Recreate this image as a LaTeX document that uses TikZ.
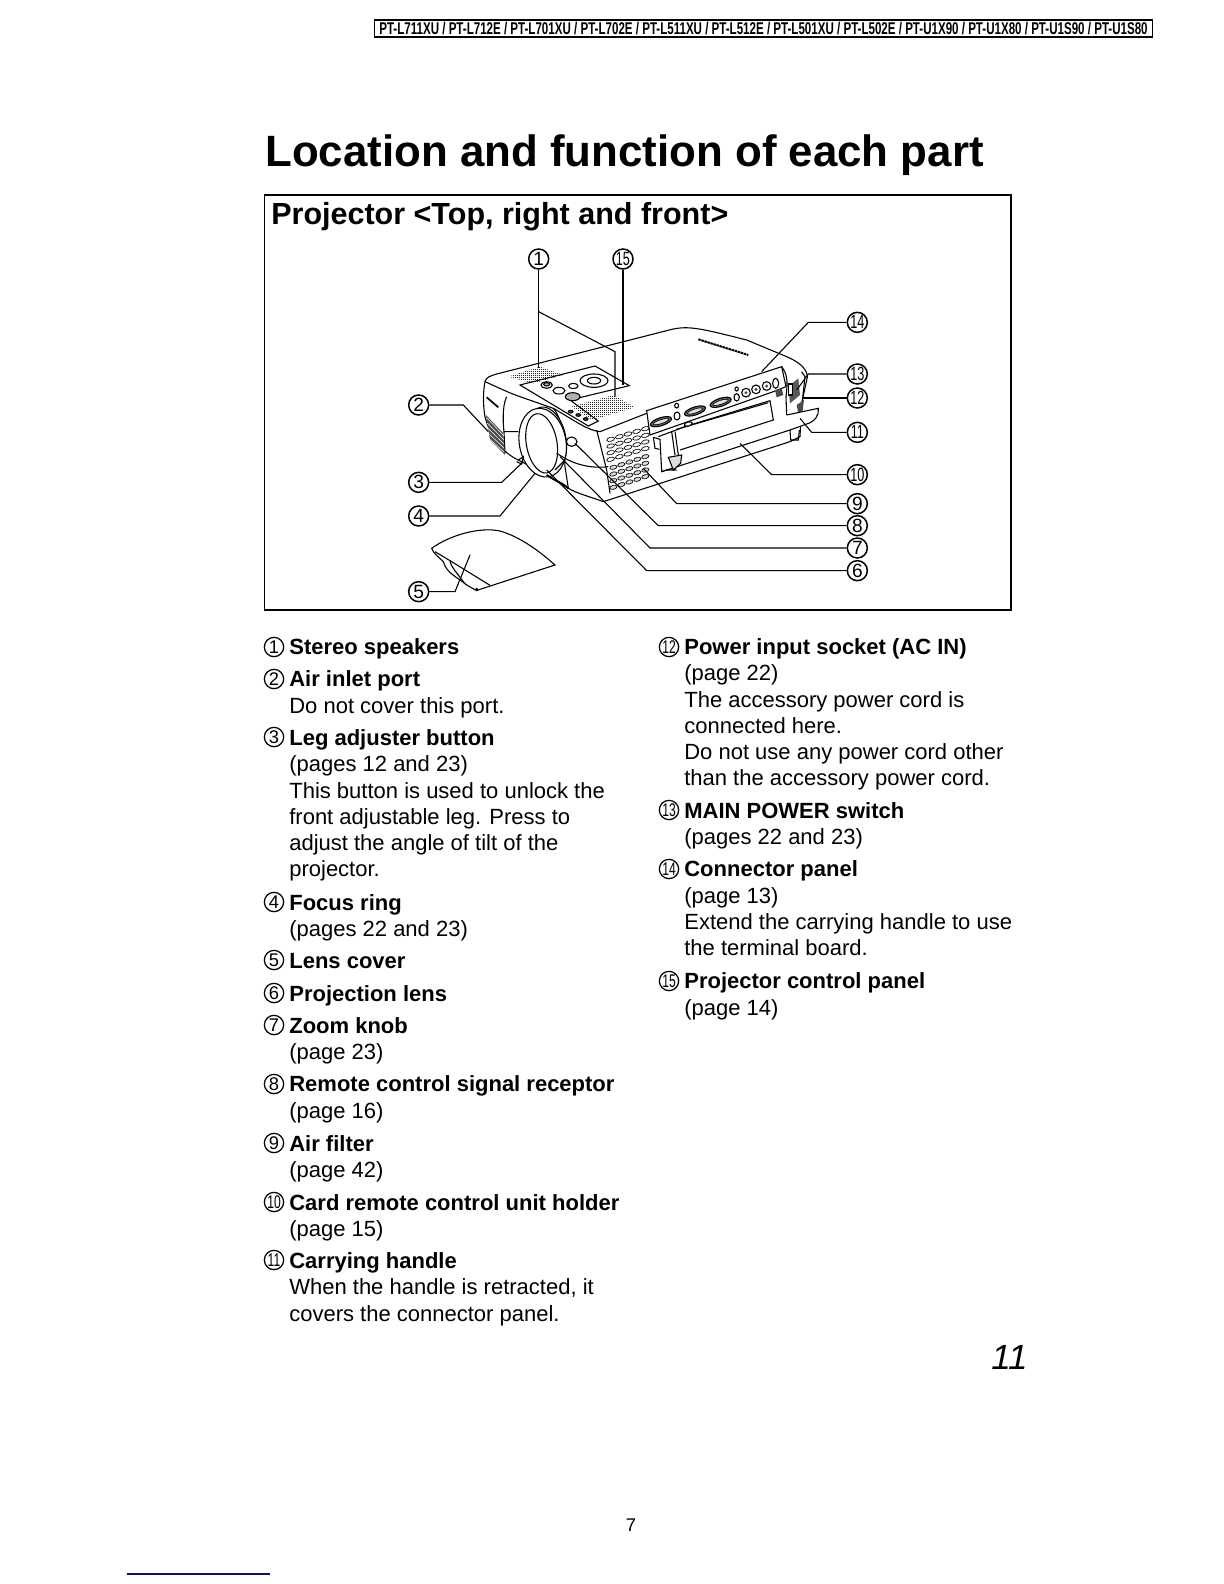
\documentclass[tikz,border=0pt]{standalone}
\usepackage{fontspec}
\usepackage{graphicx}
\setmainfont{Liberation Sans}
\newcommand{\fs}[1]{\fontsize{#1}{#1}\selectfont}
\newcommand{\nn}[1]{\scalebox{.66}[1]{#1}}
\tikzset{
  bodytxt/.style={anchor=base west,inner sep=0pt,font=\fs{13.2pt}},
  headtxt/.style={anchor=base west,inner sep=0pt,font=\fs{13.2pt}\bfseries},
  numc/.style={circle,draw,line width=.75pt,minimum size=11.6pt,inner sep=0pt,font=\fs{11pt},fill=white},
  numd/.style={circle,draw,line width=.9pt,minimum size=12pt,inner sep=0pt,font=\fs{11.5pt},fill=white},
  conn/.style={line width=.65pt},
  prj/.style={line width=.65pt},
  thin2/.style={line width=.4pt},
  stip/.style={line width=.5pt,dash pattern=on .55pt off .65pt,black!85},
}
\begin{document}
\begin{tikzpicture}[x=0.6pt,y=-0.6pt]
\useasboundingbox (0,0) rectangle (1224,1584);
\fill[white] (0,0) rectangle (1224,1584);
% header
\node[draw,line width=.9pt,inner sep=0pt,minimum width=467pt,minimum height=10pt] (hdr) at (763.5,28.5)
  {\resizebox{461pt}{7.4pt}{\bfseries PT-L711XU / PT-L712E / PT-L701XU / PT-L702E / PT-L511XU / PT-L512E / PT-L501XU / PT-L502E / PT-U1X90 / PT-U1X80 / PT-U1S90 / PT-U1S80}};
\node[anchor=base west,inner sep=0pt,font=\fs{26.3pt}\bfseries] (title) at (265,166) {Location and function of each part};
\draw[line width=.9pt] (264.5,195) rectangle (1011,610);
\draw[line width=1.2pt] (264.5,610) -- (1011,610);
\node[anchor=base west,inner sep=0pt,font=\fs{18.3pt}\bfseries] (sect) at (271,224) {Projector <Top, right and front>};

\begin{scope}[shift={(400,240)},x=0.2pt,y=-0.2pt]
% body outline
\draw[prj,fill=white] (255,425) .. controls (258,412) and (270,408) .. (290,402) -- (800,272)
  .. controls (860,255) and (890,262) .. (1040,300) -- (1160,350) .. controls (1195,365) and (1222,385) .. (1222,412)
  -- (1205,490) -- (1200,590) -- (1170,605) -- (610,785) .. controls (570,770) and (530,760) .. (505,745)
  -- (440,705) -- (355,660) .. controls (310,640) and (270,590) .. (255,530) .. controls (248,490) and (250,450) .. (255,425) -- cycle;
% top face lower edge
\draw[prj] (255,425) .. controls (300,445) and (330,460) .. (360,470) -- (460,505) .. controls (530,545) and (560,570) .. (600,575) -- (740,520);
\draw[prj] (320,470) .. controls (305,500) and (310,560) .. (312,575) -- (355,575);
\draw[prj] (312,575) -- (315,640);
\draw[prj] (460,505) .. controls (490,540) and (490,600) .. (495,680) -- (505,745);
\draw[prj] (495,655) .. controls (540,680) and (590,685) .. (625,680);
\draw[prj] (590,570) -- (620,690) -- (630,760);
% logo + side vent
\draw[line width=1pt] (260,472) -- (295,502);
\fill[black!70] (258,525) -- (310,580) -- (315,645) -- (270,600) -- cycle;
\foreach \k in {0,1,2,3,4}{\draw[white,line width=.3pt] (262,{535+\k*14}) -- (312,{588+\k*12});}
% top logo
\draw[line width=1.2pt,dash pattern=on 1.5pt off .4pt] (895,298) -- (1045,345);
% speakers
\begin{scope}
\clip (325,410) -- (420,380) -- (490,405) -- (400,430) -- cycle;
\foreach \yy in {376,382,...,436}{\draw[stip] (320,\yy) -- (495,\yy);}
\end{scope}
\begin{scope}
\clip (515,500) -- (640,465) -- (705,502) -- (575,540) -- cycle;
\foreach \yy in {462,468,...,546}{\draw[stip] (510,\yy) -- (710,\yy);}
\end{scope}
% control panel
\draw[prj] (360,435) -- (585,378) -- (688,437) -- (510,480) -- (595,543) -- (565,558) -- cycle;
\draw[prj,fill=white] (440,435) ellipse [x radius=17,y radius=10];
\draw[prj,fill=gray!60] (440,433) ellipse [x radius=9,y radius=5];
\draw[prj,fill=white] (477,452) ellipse [x radius=18,y radius=10];
\draw[prj,fill=gray!60] (518,470) ellipse [x radius=22,y radius=12];
\draw[prj,fill=white] (520,438) ellipse [x radius=14,y radius=8];
\draw[prj,fill=white] (582,422) ellipse [x radius=42,y radius=20];
\draw[prj,fill=white] (582,422) ellipse [x radius=20,y radius=10];
\draw[prj,fill=black!70] (512,515) ellipse [x radius=7,y radius=4];
\draw[prj,fill=black!70] (535,525) ellipse [x radius=7,y radius=4];
\draw[prj,fill=black!70] (557,537) ellipse [x radius=7,y radius=4];
% vents
\foreach \r in {0,1,2,3}{\foreach \c in {0,1,2,3,4}{
  \draw[thin2] ({632+\c*26},{598+\r*20-\c*8}) ellipse [x radius=12,y radius=6,rotate=15];
  \draw[thin2,fill=gray!30] ({640+\c*24},{682+\r*20-\c*8}) ellipse [x radius=11,y radius=6,rotate=15];
}}
% connector panel
\draw[prj,fill=white] (740,512) -- (1145,380) -- (1158,440) -- (1120,455) -- (750,585) -- cycle;
\foreach \px/\py in {783/545,885/513,962/487}{
  \draw[prj,fill=black!60] (\px,\py) ellipse [x radius=33,y radius=12,rotate=18];
  \draw[thin2,fill=gray!25] (\px,\py) ellipse [x radius=24,y radius=6,rotate=18];
}
\draw[prj] (831,528) ellipse [x radius=9,y radius=12];
\draw[prj] (830,497) ellipse [x radius=6,y radius=7];
\draw[prj] (1010,472) ellipse [x radius=8,y radius=11];
\draw[prj] (1010,447) ellipse [x radius=5,y radius=6];
\foreach \px/\py in {1038/458,1068/448,1100/438}{
  \draw[prj,fill=white] (\px,\py) circle [radius=13];
  \fill[black!70] (\px,\py) circle [radius=5];
}
\draw[prj] (1127,430) ellipse [x radius=9,y radius=15];
% holder door
\draw[prj] (775,590) -- (860,558) -- (1110,482) -- (1120,540) -- (840,630);
\draw[prj] (830,568) -- (1105,488);
\draw[prj,fill=white] (865,552) ellipse [x radius=12,y radius=6,rotate=15];
\draw[prj] (760,592) -- (780,598) -- (785,695) -- (1170,570);
\draw[prj] (760,592) -- (765,625) -- (778,628);
\draw[prj] (815,575) -- (825,645) (825,575) -- (835,645);
\draw[prj,fill=gray!25] (805,652) -- (845,645) -- (842,670) -- (820,690) -- cycle;
\draw[prj] (785,695) -- (800,690) -- (830,690);
% right side with socket
\draw[prj] (1145,380) .. controls (1160,400) and (1165,420) .. (1158,470) -- (1160,525);
\fill[black!65] (1165,440) -- (1195,415) -- (1200,465) -- (1170,490) -- cycle;
\draw[prj,fill=white] (1165,432) rectangle (1178,465);
\fill[black!70] (1125,450) -- (1145,445) -- (1150,465) -- (1130,472) -- cycle;
\draw[prj,fill=white] (1205,395) -- (1215,410) -- (1205,500);
\fill[black!70] (1190,495) -- (1212,480) -- (1208,512) -- (1195,520) -- cycle;
% handle
\draw[prj,fill=white] (1160,525) -- (1255,505) .. controls (1258,525) and (1245,545) .. (1220,552) -- (1170,570);
\draw[prj] (1170,570) -- (1172,600) -- (1195,600) -- (1198,570);
% lens
\draw[prj,fill=white,rotate around={10:(440,600)}] (440,600) ellipse [x radius=58,y radius=100];
\draw[prj,fill=white,rotate around={10:(428,608)}] (428,608) ellipse [x radius=70,y radius=104];
\draw[prj,fill=white,rotate around={10:(425,610)}] (425,610) ellipse [x radius=46,y radius=90];
\draw[prj] (470,640) -- (495,655) (465,690) -- (495,660);
\draw[prj] (355,660) -- (370,650) -- (365,672) -- (350,665);
% lens-side lamp
\draw[prj,fill=white] (515,605) ellipse [x radius=16,y radius=14];
% hood lower
\draw[line width=1.1pt] (440,705) .. controls (470,725) and (490,730) .. (505,745);
% lens cover
\draw[prj,fill=white] (95,925) .. controls (150,885) and (240,860) .. (300,873) .. controls (360,890) and (420,935) .. (465,975)
  -- (240,1048) -- (230,1052) -- (200,1035) .. controls (170,1010) and (140,1000) .. (130,965) .. controls (115,950) and (100,940) .. (95,925) -- cycle;
\draw[prj] (105,935) -- (150,962) -- (270,1036);
\draw[prj] (150,962) .. controls (155,985) and (165,990) .. (195,1032);
\fill (230,1048) circle [radius=5];

% labels
\node[numd] (n1) at (416,57) {1};
\node[numd] (n15) at (669,57) {\nn{15}};
\node[numd] (n14) at (1372,247) {\nn{14}};
\node[numd] (n13) at (1372,402) {\nn{13}};
\node[numd] (n12) at (1372,474) {\nn{12}};
\node[numd] (n11) at (1372,577) {\nn{11}};
\node[numd] (n10) at (1372,704) {\nn{10}};
\node[numd] (n9) at (1372,791) {9};
\node[numd] (n8) at (1372,857) {8};
\node[numd] (n7) at (1372,924) {7};
\node[numd] (n6) at (1372,992) {6};
\node[numd] (n2) at (56,495) {2};
\node[numd] (n3) at (56,727) {3};
\node[numd] (n4) at (56,828) {4};
\node[numd] (n5) at (56,1055) {5};
% targets
\coordinate (t1a) at (416,385);
\coordinate (j1) at (416,215);
\coordinate (t1b) at (645,470);
\coordinate (t15) at (669,435);
\coordinate (t2) at (265,575);
\coordinate (t3) at (370,665);
\coordinate (t4) at (405,700);
\coordinate (t5) at (210,945);
\coordinate (t6) at (440,690);
\coordinate (t7) at (480,650);
\coordinate (t8) at (525,610);
\coordinate (t9) at (730,685);
\coordinate (t10) at (1020,610);
\coordinate (t11) at (1200,535);
\coordinate (t12) at (1210,474);
\coordinate (t13) at (1190,450);
\coordinate (t14) at (1085,395);
\draw[conn] (n1) -- (t1a);
\draw[conn] (j1) -- (645,335) -- (t1b);
\draw[conn] (n15) -- (t15);
\draw[conn] (n2) -- (190,495) -- (t2);
\draw[conn] (n3) -- (305,727) -- (t3);
\draw[conn] (n4) -- (300,828) -- (t4);
\draw[conn] (n5) -- (165,1055) -- (t5);
\draw[conn] (n6) -- (740,992) -- (t6);
\draw[conn] (n7) -- (750,924) -- (t7);
\draw[conn] (n8) -- (775,857) -- (t8);
\draw[conn] (n9) -- (830,791) -- (t9);
\draw[conn] (n10) -- (1115,704) -- (t10);
\draw[conn] (n11) -- (1235,577) -- (t11);
\draw[conn] (n12) -- (t12);
\draw[conn] (n13) -- (1225,402) -- (t13);
\draw[conn] (n14) -- (1225,247) -- (t14);
\end{scope}

% left column
\node[numc] (c1) at (274,647) {1};
\node[headtxt] (a1) at (289,654) {Stereo speakers};
\node[numc] (c2) at (274,679) {2};
\node[headtxt] (a2) at (289,686.6) {Air inlet port};
\node[bodytxt] (a2b) at (289,713) {Do not cover this port.};
\node[numc] (c3) at (274,737) {3};
\node[headtxt] (a3) at (289,745) {Leg adjuster button};
\node[bodytxt] (a3b) at (289,771.5) {(pages 12 and 23)};
\node[bodytxt] (a3c) at (289,798) {This button is used to unlock the};
\node[bodytxt] (a3d) at (289,824) {front adjustable leg. Press to};
\node[bodytxt] (a3e) at (289,850) {adjust the angle of tilt of the};
\node[bodytxt] (a3f) at (289,876.5) {projector.};
\node[numc] (c4) at (274,902) {4};
\node[headtxt] (a4) at (289,910) {Focus ring};
\node[bodytxt] (a4b) at (289,936) {(pages 22 and 23)};
\node[numc] (c5) at (274,960) {5};
\node[headtxt] (a5) at (289,968.4) {Lens cover};
\node[numc] (c6) at (274,993) {6};
\node[headtxt] (a6) at (289,1001) {Projection lens};
\node[numc] (c7) at (274,1025) {7};
\node[headtxt] (a7) at (289,1033) {Zoom knob};
\node[bodytxt] (a7b) at (289,1059) {(page 23)};
\node[numc] (c8) at (274,1084) {8};
\node[headtxt] (a8) at (289,1091.6) {Remote control signal receptor};
\node[bodytxt] (a8b) at (289,1118) {(page 16)};
\node[numc] (c9) at (274,1143) {9};
\node[headtxt] (a9) at (289,1151) {Air filter};
\node[bodytxt] (a9b) at (289,1177.5) {(page 42)};
\node[numc] (c10) at (274,1202) {\nn{10}};
\node[headtxt] (a10) at (289,1210) {Card remote control unit holder};
\node[bodytxt] (a10b) at (289,1236) {(page 15)};
\node[numc] (c11) at (274,1260) {\nn{11}};
\node[headtxt] (a11) at (289,1268) {Carrying handle};
\node[bodytxt] (a11b) at (289,1294.6) {When the handle is retracted, it};
\node[bodytxt] (a11c) at (289,1321) {covers the connector panel.};
% right column
\node[numc] (c12) at (669,647) {\nn{12}};
\node[headtxt] (a12) at (684,654) {Power input socket (AC IN)};
\node[bodytxt] (a12b) at (684,680.6) {(page 22)};
\node[bodytxt] (a12c) at (684,707) {The accessory power cord is};
\node[bodytxt] (a12d) at (684,733) {connected here.};
\node[bodytxt] (a12e) at (684,759) {Do not use any power cord other};
\node[bodytxt] (a12f) at (684,785.6) {than the accessory power cord.};
\node[numc] (c13) at (669,810) {\nn{13}};
\node[headtxt] (a13) at (684,818) {MAIN POWER switch};
\node[bodytxt] (a13b) at (684,844) {(pages 22 and 23)};
\node[numc] (c14) at (669,869) {\nn{14}};
\node[headtxt] (a14) at (684,876.5) {Connector panel};
\node[bodytxt] (a14b) at (684,903) {(page 13)};
\node[bodytxt] (a14c) at (684,929) {Extend the carrying handle to use};
\node[bodytxt] (a14d) at (684,955) {the terminal board.};
\node[numc] (c15) at (669,981) {\nn{15}};
\node[headtxt] (a15) at (684,988.6) {Projector control panel};
\node[bodytxt] (a15b) at (684,1015) {(page 14)};
% footer
\node[anchor=base west,inner sep=0pt,font=\fs{21pt}\itshape] (pg) at (991,1369) {11};
\node[inner sep=0pt,font=\fs{11pt}] (seven) at (631,1525) {7};
\draw[line width=.8pt,color={rgb,255:red,10;green,10;blue,140}] (127,1574) -- (270,1574);
\end{tikzpicture}
\end{document}
